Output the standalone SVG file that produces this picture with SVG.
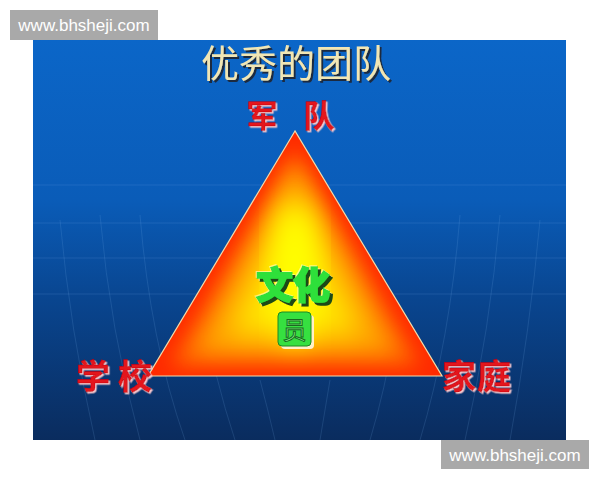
<svg xmlns="http://www.w3.org/2000/svg" width="600" height="480" viewBox="0 0 600 480">
<defs>
<linearGradient id="bg" x1="0" y1="0" x2="0" y2="1">
<stop offset="0" stop-color="#0b66c8"/>
<stop offset="0.4" stop-color="#0a5cb8"/>
<stop offset="0.65" stop-color="#09458f"/>
<stop offset="1" stop-color="#0a2c5e"/>
</linearGradient>
<clipPath id="tri"><polygon points="295,131 148,376 442,376"/></clipPath>
<filter id="blur1" x="-30%" y="-30%" width="160%" height="160%"><feGaussianBlur stdDeviation="10"/></filter>
<filter id="blur2" x="-30%" y="-30%" width="160%" height="160%"><feGaussianBlur stdDeviation="14"/></filter>
<filter id="shDark" x="-10%" y="-10%" width="130%" height="130%"><feDropShadow dx="2" dy="2" stdDeviation="0.6" flood-color="#1e2430" flood-opacity="0.9"/></filter>
<filter id="shLight" x="-10%" y="-10%" width="130%" height="130%"><feDropShadow dx="1.5" dy="1.5" stdDeviation="0.3" flood-color="#f6c6cc" flood-opacity="1"/></filter>
<filter id="shGreen" x="-10%" y="-10%" width="130%" height="130%">
<feDropShadow dx="3" dy="3" stdDeviation="0.5" flood-color="#1e4a18" flood-opacity="1" result="a"/>
<feDropShadow dx="-1" dy="-1" stdDeviation="0" flood-color="#ffffd0" flood-opacity="0.6"/>
</filter>
</defs>
<style>
.wm rect{fill:#a9a9a9}
.wm text{fill:#ffffff;font-family:"Liberation Sans",Arial,sans-serif;font-size:17px}
.grid{stroke:#7fb4ee;stroke-opacity:0.16;stroke-width:1;fill:none}
.title{font-family:"Noto Sans CJK SC",sans-serif;font-size:38px;fill:#f1e6b4}
.red{font-family:"Noto Sans CJK SC",sans-serif;font-weight:bold;fill:#e3121c;stroke:#c00010;stroke-width:0.5}
</style>
<rect width="600" height="480" fill="#ffffff"/>
<g id="slide">
<rect x="33" y="40" width="533" height="400" fill="url(#bg)"/>
<g class="grid">
<line x1="33" y1="185" x2="566" y2="185"/>
<line x1="33" y1="223" x2="566" y2="223"/>
<line x1="33" y1="258" x2="566" y2="258"/>
<line x1="33" y1="294" x2="566" y2="294"/>
<path d="M60,220 Q70,330 95,440"/>
<path d="M100,215 Q110,330 140,440"/>
<path d="M140,215 Q150,340 185,440"/>
<path d="M200,300 Q215,380 235,440"/>
<path d="M260,380 Q268,410 275,440"/>
<path d="M330,380 Q325,410 320,440"/>
<path d="M395,330 Q385,390 370,440"/>
<path d="M460,215 Q450,340 420,440"/>
<path d="M500,215 Q490,330 465,440"/>
<path d="M540,220 Q530,330 510,440"/>
</g>
</g>
<g id="title">
<text x="296" y="77" text-anchor="middle" class="title" filter="url(#shDark)">优秀的团队</text>
</g>
<g id="triangle">
<polygon points="295,131 148,376 442,376" fill="#ff2a00"/>
<g clip-path="url(#tri)">
<polygon points="295,148 170,366 420,366" fill="#ff6a00" filter="url(#blur1)"/>
<polygon points="295,165 195,352 395,352" fill="#ffa000" filter="url(#blur1)"/>
<polygon points="295,190 228,335 362,335" fill="#ffe600" filter="url(#blur2)"/>
<ellipse cx="295" cy="275" rx="22" ry="70" fill="#ffff00" filter="url(#blur2)"/>
</g>
<polygon points="295,131 148,376 442,376" fill="none" stroke="#f3dcaa" stroke-width="1.2"/>
</g>
<g id="node-army">
<text x="262" y="127" text-anchor="middle" font-size="31" class="red" filter="url(#shLight)">军</text>
<text x="319" y="127" text-anchor="middle" font-size="31" class="red" filter="url(#shLight)">队</text>
</g>
<g id="node-culture">
<text x="293" y="299" text-anchor="middle" font-family="Noto Sans CJK SC,sans-serif" font-weight="900" font-size="37" fill="#2ee03a" stroke="#2ee03a" stroke-width="1.6" filter="url(#shGreen)">文化</text>
</g>
<g id="node-yuan">
<rect x="281" y="315" width="33" height="34" rx="4" fill="#fff0c8"/>
<rect x="278" y="312" width="33" height="34" rx="4" fill="#36e040" stroke="#1c8a22" stroke-width="1"/>
<text x="294.5" y="339" text-anchor="middle" font-family="Noto Sans CJK SC,sans-serif" font-size="24" fill="#7cf080" stroke="#1a6a20" stroke-width="1">员</text>
</g>
<g id="node-school">
<text x="93" y="389" text-anchor="middle" font-size="34" class="red" filter="url(#shLight)">学</text>
<text x="135" y="389" text-anchor="middle" font-size="34" class="red" filter="url(#shLight)">校</text>
</g>
<g id="node-family">
<text x="459" y="389" text-anchor="middle" font-size="34" class="red" filter="url(#shLight)">家</text>
<text x="494" y="389" text-anchor="middle" font-size="34" class="red" filter="url(#shLight)">庭</text>
</g>
<g class="wm" id="watermark-top">
<rect x="10" y="10" width="148" height="30"/>
<text x="84" y="31" text-anchor="middle">www.bhsheji.com</text>
</g>
<g class="wm" id="watermark-bottom">
<rect x="441" y="440" width="148" height="29"/>
<text x="515" y="461" text-anchor="middle">www.bhsheji.com</text>
</g>
</svg>
